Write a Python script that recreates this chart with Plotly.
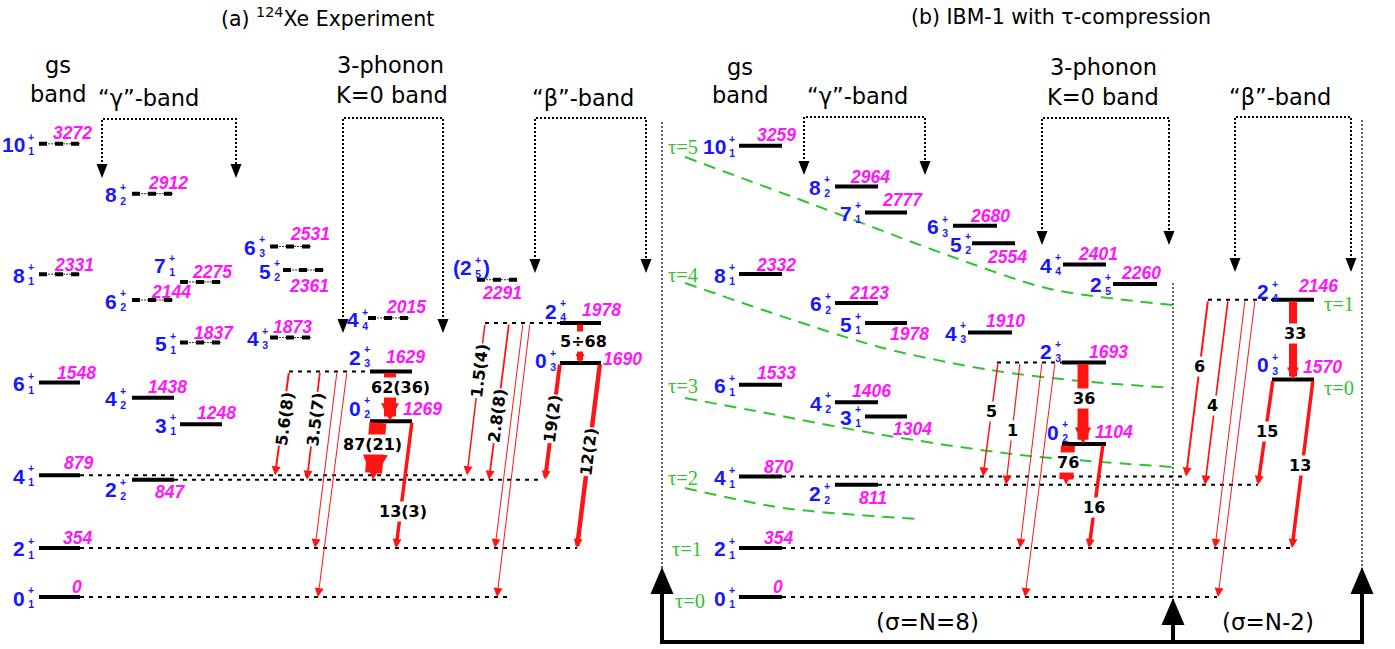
import math
import plotly.graph_objects as go

W, H = 1395, 649
Y0_PX = 597           # pixel row of the 0 keV level
PX_PER_KEV = 0.1385   # vertical energy scale (pixels per keV)


def E(py):
    """Pixel row -> energy-axis value."""
    return (Y0_PX - py) / PX_PER_KEV


def dE(dpx):
    """Pixel offset (positive = down) -> energy offset."""
    return -dpx / PX_PER_KEV


# ---------------- data ----------------
level_names = ["0_1", "2_1", "4_1", "6_1", "8_1", "10_1",
               "2_2", "3_1", "4_2", "5_1", "6_2", "7_1", "8_2",
               "4_3", "5_2", "6_3",
               "0_2", "2_3", "4_4",
               "0_3", "2_4", "2_5"]
exp_keV = [0, 354, 879, 1548, 2331, 3272,
           847, 1248, 1438, 1837, 2144, 2275, 2912,
           1873, 2361, 2531,
           1269, 1629, 2015,
           1690, 1978, 2291]
ibm_keV = [0, 354, 870, 1533, 2332, 3259,
           811, 1304, 1406, 1978, 2123, 2777, 2964,
           1910, 2554, 2680,
           1104, 1693, 2401,
           1570, 2146, 2260]
exp_tentative = ["8_1", "10_1", "5_1", "6_2", "7_1", "8_2",
                 "4_3", "5_2", "6_3", "4_4", "2_5"]

tr_from = ["2_3", "2_3", "2_3", "2_3", "2_3", "0_2", "0_2",
           "2_4", "2_4", "2_4", "2_4", "2_4", "0_3", "0_3"]
tr_to = ["0_2", "4_1", "2_2", "2_1", "0_1", "2_2", "2_1",
         "0_3", "4_1", "2_2", "2_1", "0_1", "2_2", "2_1"]
exp_be2 = ["62(36)", "5.6(8)", "3.5(7)", "", "", "87(21)", "13(3)",
           "5÷68", "1.5(4)", "2.8(8)", "", "", "19(2)", "12(2)"]
ibm_be2 = ["36", "5", "1", "", "", "76", "16",
           "33", "6", "4", "", "", "15", "13"]

tau_values = [0, 1, 2, 3, 4, 5]
tau_gs_levels = ["0_1", "2_1", "4_1", "6_1", "8_1", "10_1"]
tau_beta_values = [0, 1]
tau_beta_levels = ["0_3", "2_4"]

# ---------------- styling ----------------
BLUE = "#1717ff"
MAGENTA = "#ff14ff"
RED = "#ff1414"
GREEN = "#2fc42f"
F_HEAD = "DejaVu Sans"
F_LAB = "Liberation Sans"
F_TAU = "Liberation Serif"

# level placement: x0, x1, spin-label right edge dx, dy, energy-label centre dx (from x1), dy
EXP_PLACE = {
    "0_1": (39, 80, -13, 0, -3, -10), "2_1": (39, 80, -13, 0, -3, -10),
    "4_1": (39, 80, -13, 0, -2, -12), "6_1": (39, 80, -13, 0, -4, -10),
    "8_1": (39, 80, -13, 0, -6, -9), "10_1": (39, 80, -13, 0, -8, -11),
    "2_2": (132, 174, -14, 9, -4, 12), "3_1": (180, 222, -12, 0, -6, -11),
    "4_2": (132, 174, -14, 0, -7, -11), "5_1": (180, 222, -12, 0, -8, -10),
    "6_2": (132, 174, -14, 0, -3, -8), "7_1": (180, 222, -13, -17, -10, -10),
    "8_2": (132, 174, -14, 0, -6, -11),
    "4_3": (270, 311, -10, 0, -19, -11), "5_2": (283, 325, -11, 0, -16, 16),
    "6_3": (270, 311, -13, 0, -1, -12),
    "0_2": (370, 412, -8, -14, 10, -12), "2_3": (370, 412, -8, -15, -7, -14),
    "4_4": (368, 410, -8, 1, -4, -11),
    "0_3": (560, 601, -12, -3, 21, -4), "2_4": (560, 601, -2, -13, 0, -13),
    "2_5": (477, 517, -4, -13, -15, 13),
}
IBM_PLACE = {
    "0_1": (739, 782, -12, 0, -4, -10), "2_1": (739, 782, -12, 0, -4, -10),
    "4_1": (739, 782, -12, 0, -4, -10), "6_1": (739, 782, -12, 0, -6, -12),
    "8_1": (739, 782, -12, 0, -6, -9), "10_1": (739, 782, -12, 0, -6, -11),
    "2_2": (835, 878, -13, 8, -5, 13), "3_1": (865, 907, -12, 0, 5, 13),
    "4_2": (835, 878, -12, 0, -7, -11), "5_1": (865, 907, -12, 0, 2, 11),
    "6_2": (835, 878, -12, 0, -9, -10), "7_1": (865, 907, -12, 0, -5, -12),
    "8_2": (835, 878, -13, 0, -8, -9),
    "4_3": (968, 1012, -10, 0, -7, -11), "5_2": (972, 1015, -9, 0, -8, 14),
    "6_3": (953, 997, -13, 0, -7, -10),
    "0_2": (1062, 1106, -2, -13, 8, -12), "2_3": (1062, 1106, -9, -12, 2, -11),
    "4_4": (1063, 1106, -10, 0, -8, -10),
    "0_3": (1272, 1314, -2, -16, 8, -13), "2_4": (1272, 1314, -2, -9, 4, -14),
    "2_5": (1113, 1157, -10, 0, -16, -11),
}

# dotted level extensions: level, x from, x to
EXP_EXT = [("0_1", 80, 510), ("2_1", 80, 577), ("4_1", 80, 467),
           ("2_2", 174, 543), ("2_3", 289, 370), ("2_4", 485, 560)]
IBM_EXT = [("0_1", 782, 1217), ("2_1", 782, 1292), ("4_1", 782, 1186),
           ("2_2", 878, 1258), ("2_3", 997, 1062), ("2_4", 1208, 1272)]

# transition arrows: x start, x end, line width, label position along arrow, label dx, rotated label
EXP_TR_STYLE = [(390, 390, 12, 0.32, 10, False), (289, 275, 2, 0.46, 2, True),
                (320, 307, 1.8, 0.44, 1, True), (337, 315, 1, 0, 0, False),
                (347, 318, 1, 0, 0, False), (378, 373, 17, 0.39, -4, False),
                (412, 396, 3.5, 0.71, 2, False), (580, 580, 6, 0.475, 3, False),
                (485, 467, 1.5, 0.31, 0, True), (509, 489, 1.8, 0.59, 0, True),
                (523, 495, 1, 0, 0, False), (530, 497, 1, 0, 0, False),
                (560, 545, 4, 0.48, 0, True), (600, 577, 4.5, 0.48, 0, True)]
IBM_TR_STYLE = [(1083, 1083, 11, 0.44, 1, False), (998, 983, 1.5, 0.43, 0, False),
                (1020, 1006, 1.2, 0.56, 0, False), (1042, 1020, 1, 0, 0, False),
                (1055, 1025, 1, 0, 0, False), (1068, 1066, 14, 0.45, 1, False),
                (1103, 1089, 3.5, 0.61, 0, False), (1293, 1293, 8, 0.42, 2, False),
                (1208, 1186, 2, 0.38, 0, False), (1228, 1205, 1.7, 0.57, -2, False),
                (1245, 1215, 1, 0, 0, False), (1255, 1218, 1, 0, 0, False),
                (1273, 1258, 3.5, 0.49, 1, False), (1313, 1292, 3.5, 0.51, -2, False)]

shapes, annotations, labels_on_top, traces = [], [], [], []


def hline(xa, xb, e, width, color="black", dash=None):
    d = dict(type="line", xref="x", yref="y", x0=xa, x1=xb, y0=e, y1=e,
             line=dict(color=color, width=width))
    if dash:
        d["line"]["dash"] = dash
    shapes.append(d)


def text(t, x, y, size, color="black", family=F_HEAD, xanchor="center",
         angle=0, bg=None, target=None):
    a = dict(x=x, y=y, xref="x", yref="y", text=t, showarrow=False,
             font=dict(family=family, size=size, color=color),
             xanchor=xanchor, yanchor="middle", textangle=angle, borderpad=0)
    if bg:
        a["bgcolor"] = bg
    (annotations if target is None else target).append(a)


def draw_panel(keV, place, tentative, ext, be2, style, paren=()):
    e_of = dict(zip(level_names, keV))
    for name, xa, xb in ext:
        hline(xa, xb, e_of[name], 2, dash="4px,5px")
    for name in level_names:
        x0, x1, sdx, sdy, edx, edy = place[name]
        e = e_of[name]
        if name in tentative:
            hline(x0, x1, e, 1, color="#333", dash="2px,1px")
            hline(x0, x1, e, 4, dash="8px,8px")
        else:
            hline(x0, x1, e, 4)
        J, k = name.split("_")
        ys = e + dE(sdy + 1)
        xr = x0 + sdx
        if name in paren:
            text("<b>(" + J + "</b>", xr, ys, 21, BLUE, F_LAB, xanchor="right")
            text("<b>)</b>", xr + 9, ys, 21, BLUE, F_LAB, xanchor="left")
        else:
            text("<b>" + J + "</b>", xr, ys, 21, BLUE, F_LAB, xanchor="right")
        text("<b>+<br>" + k + "</b>", xr + 4.5, e + dE(sdy), 10.5, BLUE, F_LAB)
        text("<b><i>" + str(e) + "</i></b>", x1 + edx, e + dE(edy), 17.5, MAGENTA, F_LAB)

    for f, t, lab, (xs, xe, w, tl, ldx, rot) in zip(tr_from, tr_to, be2, style):
        ef, et = e_of[f], e_of[t]
        target = max(1.8, 0.3 * w)
        annotations.append(dict(
            x=xe, y=et, ax=xs, ay=ef, xref="x", yref="y", axref="x", ayref="y",
            text="", showarrow=True, arrowhead=2, arrowwidth=w,
            arrowsize=max(0.3, target / w), arrowcolor=RED, standoff=0, startstandoff=0))
        if lab:
            lx = xs + tl * (xe - xs) + ldx
            ly = ef + tl * (et - ef)
            ang = 0
            if rot:
                ang = -math.degrees(math.atan2((ef - et) * PX_PER_KEV, xs - xe))
            text("<b>" + lab + "</b>", lx, ly, 16, "black", F_HEAD, angle=ang,
                 bg="white", target=labels_on_top)
    return e_of


exp_e = draw_panel(exp_keV, EXP_PLACE, exp_tentative, EXP_EXT, exp_be2, EXP_TR_STYLE, paren=("2_5",))
ibm_e = draw_panel(ibm_keV, IBM_PLACE, (), IBM_EXT, ibm_be2, IBM_TR_STYLE)
annotations.extend(labels_on_top)

# ---------------- headers ----------------
text("(a) <sup>124</sup>Xe Experiment", 327, E(17), 20.5)
text("(b) IBM-1 with τ-compression", 1061, E(17), 20.5)
for x, y, t in [(58, 65, "gs"), (58, 94, "band"), (148, 98, "\u201cγ\u201d-band"),
                (390, 65, "3-phonon"), (392, 95, "K=0 band"), (583, 98, "\u201cβ\u201d-band"),
                (740, 67, "gs"), (740, 95, "band"), (857, 96, "\u201cγ\u201d-band"),
                (1103, 67, "3-phonon"), (1103, 97, "K=0 band"), (1280, 97, "\u201cβ\u201d-band")]:
    text(t, x, E(y), 22.5)

# band brackets with arrows
for xl, xr, ytop, ytip in [(102, 236, 119, 178), (343, 443, 118, 333), (535, 646, 118, 273),
                           (804, 925, 117, 175), (1042, 1169, 118, 245), (1235, 1351, 117, 272)]:
    shapes.append(dict(type="path", xref="x", yref="y",
                       path=f"M{xl},{E(ytip - 12)} L{xl},{E(ytop)} L{xr},{E(ytop)} L{xr},{E(ytip - 12)}",
                       line=dict(color="black", width=2, dash="2px,2px")))
    for xx in (xl, xr):
        shapes.append(dict(type="path", xref="x", yref="y",
                           path=f"M{xx - 5.5},{E(ytip - 14)} L{xx + 5.5},{E(ytip - 14)} L{xx},{E(ytip)} Z",
                           fillcolor="black", line=dict(width=0)))

# tau labels and equal-tau guide curves
for tv, lv in zip(tau_values, tau_gs_levels):
    text(f"τ={tv}", 683 + (4 if tv < 2 else 0) + (3 if tv == 0 else 0),
         ibm_e[lv] + dE(1 + (3 if tv == 0 else 0)), 20.5, GREEN, F_TAU)
tau_beta_dy = {0: 8, 1: 4}
for tv, lv in zip(tau_beta_values, tau_beta_levels):
    text(f"τ={tv}", 1339, ibm_e[lv] + dE(tau_beta_dy[tv]), 20.5, GREEN, F_TAU)

guide_curves = [
    [(685, 157), (817, 206), (950, 256), (1050, 289), (1173, 305)],
    [(685, 283), (793, 320), (883, 348), (990, 370), (1080, 381), (1173, 388)],
    [(685, 398), (750, 410), (883, 435), (1020, 455), (1173, 467)],
    [(685, 488), (783, 508), (918, 519)],
]
for pts in guide_curves:
    traces.append(go.Scatter(x=[p[0] for p in pts], y=[E(p[1]) for p in pts], mode="lines",
                             line=dict(color=GREEN, width=2, dash="12px,8px", shape="spline", smoothing=0.8),
                             hoverinfo="skip"))

# sigma frame
for xx, ytop, ybot in [(662, 122, 570), (1173, 283, 600), (1362, 120, 570)]:
    shapes.append(dict(type="line", xref="x", yref="y", x0=xx, x1=xx, y0=E(ytop), y1=E(ybot),
                       line=dict(color="#333", width=1.5, dash="2px,2px")))
shapes.append(dict(type="path", xref="x", yref="y",
                   path=f"M662,{E(588)} L662,{E(642)} L1362,{E(642)} L1362,{E(592)}",
                   line=dict(color="black", width=4)))
shapes.append(dict(type="line", xref="x", yref="y", x0=1173, x1=1173, y0=E(642), y1=E(622),
                   line=dict(color="black", width=4)))
for xx, ytip in [(662, 567), (1173, 598), (1362, 567)]:
    shapes.append(dict(type="path", xref="x", yref="y",
                       path=f"M{xx - 11.5},{E(ytip + 27)} L{xx + 11.5},{E(ytip + 27)} L{xx},{E(ytip)} Z",
                       fillcolor="black", line=dict(width=0)))
text("(σ=N=8)", 927, E(622), 23)
text("(σ=N-2)", 1268, E(622), 23)

fig = go.Figure(traces)
fig.update_layout(
    width=W, height=H, margin=dict(l=0, r=0, t=0, b=0),
    paper_bgcolor="white", plot_bgcolor="white", showlegend=False,
    xaxis=dict(range=[0, W], visible=False, fixedrange=True),
    yaxis=dict(range=[E(H), E(0)], visible=False, fixedrange=True),
    shapes=shapes, annotations=annotations,
)
fig.write_html("out.html")
